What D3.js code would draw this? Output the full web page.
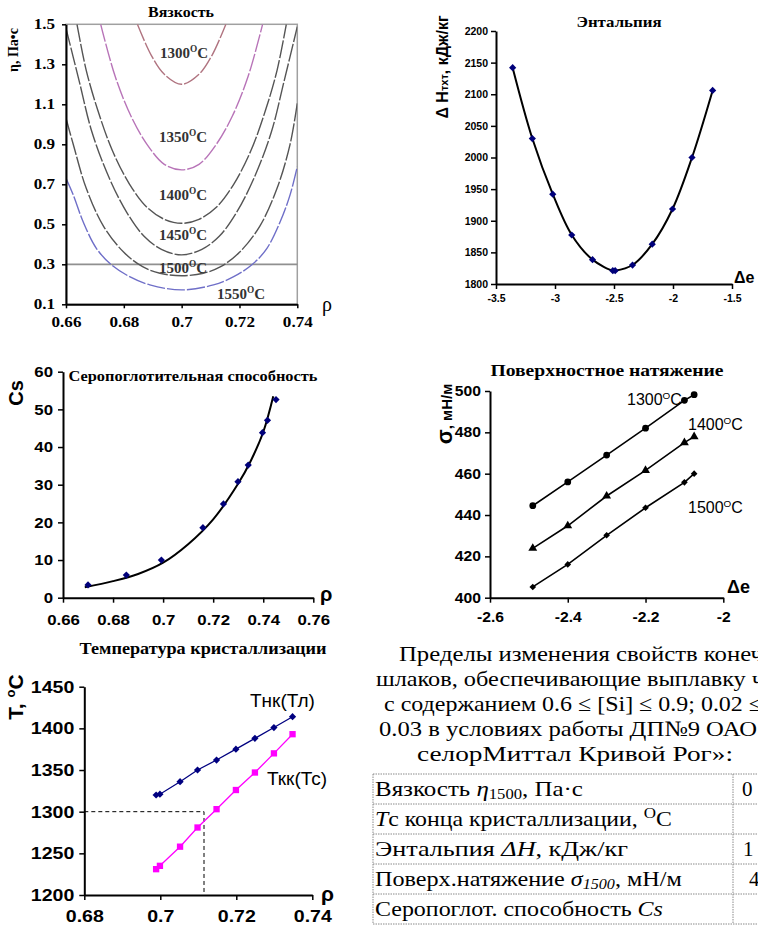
<!DOCTYPE html>
<html><head><meta charset="utf-8">
<script src="https://cdn.jsdelivr.net/npm/d3@7"></script>
<style>body{margin:0;background:#fff}svg{display:block}</style>
</head><body>
<svg id="c" width="758" height="933"></svg>
<script>
// ===== DATA =====
// Viscosity (η, Па·с vs ρ)
const viscXTicks = [0.66, 0.68, 0.70, 0.72, 0.74];
const viscXLabels = ["0.66", "0.68", "0.7", "0.72", "0.74"];
const viscYTicks = [0.1, 0.3, 0.5, 0.7, 0.9, 1.1, 1.3, 1.5];
const viscYLabels = ["0.1", "0.3", "0.5", "0.7", "0.9", "1.1", "1.3", "1.5"];
const viscTemps = ["1300", "1350", "1400", "1450", "1500", "1550"];
const visc1300 = [[0.6847,1.5],[0.6895,1.345],[0.694,1.25],[0.70,1.20],[0.706,1.25],[0.7105,1.345],[0.7153,1.5]];
const visc1350 = [[0.672,1.5],[0.677,1.24],[0.6825,1.04],[0.688,0.90],[0.694,0.80],[0.70,0.772],[0.706,0.80],[0.712,0.90],[0.7175,1.04],[0.723,1.24],[0.728,1.5]];
const visc1400 = [[0.6638,1.5],[0.667,1.27],[0.671,1.07],[0.676,0.87],[0.682,0.70],[0.688,0.585],[0.694,0.525],[0.70,0.505],[0.706,0.525],[0.712,0.585],[0.718,0.70],[0.724,0.87],[0.729,1.07],[0.733,1.27],[0.7362,1.5]];
const visc1450 = [[0.66,1.48],[0.6645,1.22],[0.669,0.96],[0.675,0.73],[0.681,0.56],[0.687,0.44],[0.693,0.375],[0.70,0.347],[0.707,0.375],[0.713,0.44],[0.719,0.56],[0.725,0.73],[0.731,0.96],[0.7355,1.22],[0.74,1.488]];
const visc1500 = [[0.66,1.03],[0.6625,0.90],[0.667,0.68],[0.673,0.49],[0.68,0.36],[0.6865,0.288],[0.6925,0.255],[0.70,0.243],[0.7075,0.255],[0.7135,0.288],[0.72,0.36],[0.727,0.49],[0.733,0.68],[0.7375,0.90],[0.74,1.105]];
const visc1550 = [[0.66,0.73],[0.6625,0.647],[0.666,0.51],[0.6705,0.38],[0.6755,0.30],[0.682,0.238],[0.689,0.197],[0.70,0.172],[0.711,0.197],[0.718,0.238],[0.7245,0.30],[0.7295,0.38],[0.734,0.51],[0.7375,0.647],[0.74,0.788]];
const viscLimit = 0.3;

// Enthalpy (ΔH vs Δe)
const enthTicksX = [-3.5, -3, -2.5, -2, -1.5];
const enthTicksY = [1800, 1850, 1900, 1950, 2000, 2050, 2100, 2150, 2200];
const enthDe = [-3.359, -3.192, -3.019, -2.858, -2.682, -2.510, -2.490, -2.343, -2.176, -2.004, -1.839, -1.664];
const enthH  = [2142, 2030, 1942, 1877.5, 1838.5, 1821, 1821, 1830, 1863, 1918.6, 2000, 2106];

// Sulphur capacity (Cs vs ρ)
const csTicksX = [0.66, 0.68, 0.70, 0.72, 0.74, 0.76];
const csLabelsX = ["0.66", "0.68", "0.7", "0.72", "0.74", "0.76"];
const csTicksY = [0, 10, 20, 30, 40, 50, 60];
const csRho = [0.670, 0.6853, 0.6993, 0.7159, 0.7241, 0.7299, 0.734, 0.7397, 0.7417, 0.7451];
const csVal = [3.4, 6.0, 10.0, 18.6, 24.9, 30.8, 35.2, 43.8, 47.1, 52.6];
const csFitRho = [0.6687, 0.68, 0.69, 0.70, 0.71, 0.72, 0.73, 0.735, 0.74, 0.744];
const csFitVal = [2.8, 4.4, 6.3, 9.3, 14.2, 20.8, 30.3, 36.3, 44.0, 53.5];

// Surface tension (σ vs Δe)
const sigTicksX = [-2.6, -2.4, -2.2, -2];
const sigTicksY = [400, 420, 440, 460, 480, 500];
const sigDe   = [-2.49, -2.40, -2.30, -2.20, -2.10, -2.075];
const sig1300 = [444.5, 456, 469, 482, 495.5, 498.2];
const sig1400 = [423.9, 434.8, 449.2, 461.6, 475, 477.9];
const sig1500 = [405.2, 416.1, 430.2, 443.5, 455.8, 460];

// Crystallisation temperature (T vs ρ)
const crTicksX = [0.68, 0.70, 0.72, 0.74];
const crLabelsX = ["0.68", "0.7", "0.72", "0.74"];
const crTicksY = [1200, 1250, 1300, 1350, 1400, 1450];
const crRho  = [0.6989, 0.6999, 0.7052, 0.7098, 0.7148, 0.7199, 0.7249, 0.7299, 0.7348];
const tLiq   = [1320, 1321, 1336, 1350, 1362, 1375, 1388, 1401, 1414];
const tSol   = [1231, 1235, 1258, 1281, 1303, 1326, 1347, 1370, 1393];
const crGuide = [0.7115, 1300];

// Text block
const paraLines = ["Пределы изменения свойств конеч", "шлаков, обеспечивающие выплавку ч", "с содержанием 0.6 ≤ [Si] ≤ 0.9; 0.02 ≤", "0.03  в условиях работы ДП№9 ОАО", "селорМиттал Кривой Рог»:"];
const tableVals = ["0", "", "1", "4", ""];

// ===== DRAWING =====
const svg = d3.select("#c");
const SERIF = "'Liberation Serif','Times New Roman',serif";
const SANS = "'Liberation Sans',Arial,sans-serif";

function stretch(sel, f) {
  sel.each(function () {
    const w = this.getComputedTextLength();
    d3.select(this).attr("textLength", w * f).attr("lengthAdjust", "spacingAndGlyphs");
  });
}
function fitWidth(t, w) { t.attr("textLength", w).attr("lengthAdjust", "spacingAndGlyphs"); return t; }

function axes(x, y, o) {
  const gx = svg.append("g").attr("transform", `translate(0,${y.range()[0]})`)
    .call(d3.axisBottom(x).tickValues(o.xt).tickFormat((d, i) => o.xl ? o.xl[i] : d)
      .tickSize(o.ts).tickSizeOuter(0).tickPadding(o.xp));
  const gy = svg.append("g").attr("transform", `translate(${x.range()[0]},0)`)
    .call(d3.axisLeft(y).tickValues(o.yt).tickFormat((d, i) => o.yl ? o.yl[i] : d)
      .tickSize(o.ts).tickSizeOuter(0).tickPadding(o.yp));
  [gx, gy].forEach(g => {
    g.select(".domain").attr("stroke", "#000").attr("stroke-width", 2);
    g.selectAll(".tick line").attr("stroke", "#000").attr("stroke-width", 1.5);
    g.selectAll("text").attr("font-family", o.font).attr("font-weight", "bold")
      .attr("font-size", o.fs).attr("fill", "#000");
    if (o.sx) stretch(g.selectAll("text"), o.sx);
  });
}
function txt(x, y, s, o) {
  const t = svg.append("text").attr("x", x).attr("y", y).text(s)
    .attr("font-family", o.font || SANS).attr("font-size", o.fs || 12)
    .attr("font-weight", o.fw || "normal").attr("text-anchor", o.anchor || "start")
    .attr("fill", o.fill || "#000");
  if (o.rot) t.attr("transform", `rotate(${o.rot},${x},${y})`);
  if (o.w) fitWidth(t, o.w);
  return t;
}
function degLabel(x, y, num, o) {
  const t = txt(x, y, num, o);
  t.append("tspan").attr("font-size", o.fs * 0.62).attr("dy", -o.fs * 0.38).text("O");
  t.append("tspan").attr("dy", o.fs * 0.38).text("C");
  return t;
}
const diamond = d3.symbol().type(d3.symbolSquare).size(26);

// ---- Panel 1: Viscosity ----
{
  const x = d3.scaleLinear().domain([0.66, 0.74]).range([66, 297.3]);
  const y = d3.scaleLinear().domain([0.1, 1.5]).range([304.3, 24.3]);
  svg.append("defs").append("clipPath").attr("id", "vclip")
    .append("rect").attr("x", 66).attr("y", 24.3).attr("width", 231.3).attr("height", 280);
  svg.append("rect").attr("x", 66).attr("y", 24.3).attr("width", 231.3).attr("height", 280)
    .attr("fill", "none").attr("stroke", "#a0a0a0").attr("stroke-width", 1.5);
  svg.append("line").attr("x1", x(0.66)).attr("x2", x(0.74)).attr("y1", y(viscLimit)).attr("y2", y(viscLimit))
    .attr("stroke", "#909090").attr("stroke-width", 1.8);
  const line = d3.line().x(d => x(d[0])).y(d => y(d[1])).curve(d3.curveCatmullRom);
  const curves = [[visc1300, "#b07480"], [visc1350, "#b874b8"], [visc1400, "#555"], [visc1450, "#555"], [visc1500, "#555"], [visc1550, "#6f6fc8"]];
  const cg = svg.append("g").attr("clip-path", "url(#vclip)");
  curves.forEach(([d, c]) => cg.append("path").attr("d", line(d)).attr("fill", "none")
    .attr("stroke", c).attr("stroke-width", 1.4).attr("stroke-dasharray", "18,2"));
  axes(x, y, { xt: viscXTicks, xl: viscXLabels, yt: viscYTicks, yl: viscYLabels, ts: 4, xp: 9, yp: 7, font: SERIF, fs: 14, sx: 1.22 });
  txt(181, 17, "Вязкость", { font: SERIF, fs: 14, fw: "bold", anchor: "middle", w: 66 });
  txt(18, 50, "η, Па•с", { font: SERIF, fs: 14, fw: "bold", anchor: "middle", rot: -90 });
  txt(322, 311, "ρ", { font: SERIF, fs: 20 });
  const lab = [[viscTemps[0], 184, 58], [viscTemps[1], 183, 142], [viscTemps[2], 183, 200], [viscTemps[3], 183, 240], [viscTemps[4], 183, 273], [viscTemps[5], 241, 299]];
  lab.forEach(([t, lx, ly]) => degLabel(lx, ly, t, { font: SERIF, fs: 15, fw: "bold", anchor: "middle", fill: "#333" }));
}

// ---- Panel 2: Enthalpy ----
{
  const x = d3.scaleLinear().domain([-3.5, -1.5]).range([496, 732]);
  const y = d3.scaleLinear().domain([1800, 2200]).range([284, 31]);
  axes(x, y, { xt: enthTicksX, yt: enthTicksY, ts: 5, xp: 6, yp: 3, font: SANS, fs: 10.5 });
  const pts = enthDe.map((d, i) => [d, enthH[i]]);
  svg.append("path").attr("d", d3.line().x(d => x(d[0])).y(d => y(d[1])).curve(d3.curveCatmullRom)(pts))
    .attr("fill", "none").attr("stroke", "#000").attr("stroke-width", 2);
  svg.append("g").selectAll("path").data(pts).join("path")
    .attr("d", diamond).attr("fill", "#00007a")
    .attr("transform", d => `translate(${x(d[0])},${y(d[1])}) rotate(45)`);
  txt(619, 27, "Энтальпия", { font: SERIF, fs: 15, fw: "bold", anchor: "middle", w: 85 });
  const yl = txt(448, 67, "", { font: SANS, fs: 16, fw: "bold", anchor: "middle", rot: -90 });
  yl.append("tspan").text("Δ H");
  yl.append("tspan").attr("font-size", 11).text("тхт");
  yl.append("tspan").text(", кДж/кг");
  txt(734, 283, "Δe", { font: SANS, fs: 16, fw: "bold" });
}

// ---- Panel 3: Cs ----
{
  const x = d3.scaleLinear().domain([0.66, 0.76]).range([63, 313.3]);
  const y = d3.scaleLinear().domain([0, 60]).range([597.7, 371.7]);
  axes(x, y, { xt: csTicksX, xl: csLabelsX, yt: csTicksY, ts: 5, xp: 12, yp: 5, font: SANS, fs: 15, sx: 1.12 });
  const fit = csFitRho.map((d, i) => [d, csFitVal[i]]);
  svg.append("path").attr("d", d3.line().x(d => x(d[0])).y(d => y(d[1])).curve(d3.curveCatmullRom)(fit))
    .attr("fill", "none").attr("stroke", "#000").attr("stroke-width", 2);
  svg.append("g").selectAll("path").data(csRho.map((d, i) => [d, csVal[i]])).join("path")
    .attr("d", diamond).attr("fill", "#00007a")
    .attr("transform", d => `translate(${x(d[0])},${y(d[1])}) rotate(45)`);
  txt(193, 381, "Серопоглотительная способность", { font: SERIF, fs: 15, fw: "bold", anchor: "middle", w: 249 });
  txt(23, 393, "Cs", { font: SANS, fs: 20, fw: "bold", anchor: "middle", rot: -90 });
  txt(320, 601, "ρ", { font: SANS, fs: 20, fw: "bold" });
}

// ---- Panel 4: Surface tension ----
{
  const x = d3.scaleLinear().domain([-2.6, -2]).range([490, 723.3]);
  const y = d3.scaleLinear().domain([400, 500]).range([597.7, 391]);
  axes(x, y, { xt: sigTicksX, yt: sigTicksY, ts: 5, xp: 9, yp: 4, font: SANS, fs: 14, sx: 1.12 });
  const line = d3.line().x(d => x(d[0])).y(d => y(d[1]));
  const series = [[sig1300, d3.symbolCircle, 36, 0], [sig1400, d3.symbolTriangle, 34, 0], [sig1500, d3.symbolSquare, 22, 45]];
  series.forEach(([vals, sym, sz, rot]) => {
    const pts = sigDe.map((d, i) => [d, vals[i]]);
    svg.append("path").attr("d", line(pts)).attr("fill", "none").attr("stroke", "#000").attr("stroke-width", 1.6);
    svg.append("g").selectAll("path").data(pts).join("path")
      .attr("d", d3.symbol().type(sym).size(sz)).attr("fill", "#000")
      .attr("transform", d => `translate(${x(d[0])},${y(d[1])}) rotate(${rot})`);
  });
  txt(607, 376, "Поверхностное натяжение", { font: SERIF, fs: 16, fw: "bold", anchor: "middle", w: 233 });
  const yl = txt(452, 414, "", { font: SANS, fs: 15, fw: "bold", anchor: "middle", rot: -90 });
  yl.append("tspan").attr("font-size", 22).text("σ");
  yl.append("tspan").text(", мН/м");
  degLabel(627, 405, "1300", { font: SANS, fs: 16 });
  degLabel(688, 430, "1400", { font: SANS, fs: 16 });
  degLabel(688, 513, "1500", { font: SANS, fs: 16 });
  txt(727, 593, "Δe", { font: SANS, fs: 18, fw: "bold" });
}

// ---- Panel 5: Crystallisation ----
{
  const x = d3.scaleLinear().domain([0.68, 0.74]).range([84.3, 312.3]);
  const y = d3.scaleLinear().domain([1200, 1450]).range([895, 686.7]);
  axes(x, y, { xt: crTicksX, xl: crLabelsX, yt: crTicksY, ts: 5, xp: 10, yp: 5, font: SANS, fs: 17, sx: 1.15 });
  svg.append("path").attr("d", d3.line()([[x(0.68), y(crGuide[1])], [x(crGuide[0]), y(crGuide[1])], [x(crGuide[0]), y(1200)]]))
    .attr("fill", "none").attr("stroke", "#000").attr("stroke-width", 1).attr("stroke-dasharray", "4,3");
  const line = d3.line().x(d => x(d[0])).y(d => y(d[1]));
  const liq = crRho.map((d, i) => [d, tLiq[i]]);
  const sol = crRho.map((d, i) => [d, tSol[i]]);
  svg.append("path").attr("d", line(liq)).attr("fill", "none").attr("stroke", "#000080").attr("stroke-width", 1.3);
  svg.append("path").attr("d", line(sol)).attr("fill", "none").attr("stroke", "#ff00ff").attr("stroke-width", 1.3);
  svg.append("g").selectAll("path").data(liq).join("path")
    .attr("d", diamond).attr("fill", "#000080")
    .attr("transform", d => `translate(${x(d[0])},${y(d[1])}) rotate(45)`);
  svg.append("g").selectAll("path").data(sol).join("path")
    .attr("d", d3.symbol().type(d3.symbolSquare).size(40)).attr("fill", "#ff00ff")
    .attr("transform", d => `translate(${x(d[0])},${y(d[1])})`);
  txt(203, 654, "Температура кристаллизации", { font: SERIF, fs: 17, fw: "bold", anchor: "middle", w: 247 });
  const yl = txt(23, 697, "T, ", { font: SANS, fs: 21, fw: "bold", anchor: "middle", rot: -90 });
  yl.append("tspan").attr("font-size", 13).attr("dy", -8).text("o");
  yl.append("tspan").attr("dy", 8).text("C");
  txt(250, 707, "Тнк(Тл)", { font: SANS, fs: 19 });
  txt(267, 785, "Ткк(Тс)", { font: SANS, fs: 19 });
  txt(321, 901, "ρ", { font: SANS, fs: 21, fw: "bold" });
}

// ---- Text block and table ----
{
  const xs = [399, 376, 384, 379, 417];
  const ws = [364, 388, 378, 378, 316];
  paraLines.forEach((s, i) => txt(xs[i], 661 + i * 25, s, { font: SERIF, fs: 22, w: ws[i] }));
  const top = 774, rh = 30, left = 373, div = 733;
  const tg = svg.append("g").attr("stroke", "#8a8a8a").attr("stroke-width", 1).attr("stroke-dasharray", "1.5,1");
  d3.range(6).forEach(i => tg.append("line").attr("x1", left).attr("x2", 758).attr("y1", top + i * rh).attr("y2", top + i * rh));
  [left, div].forEach(vx => tg.append("line").attr("x1", vx).attr("x2", vx).attr("y1", top).attr("y2", top + 5 * rh));
  const fs = 21, bx = 375;
  const b = i => top + i * rh + 22;
  const rowW = [208, 297, 253, 307, 288];
  function row(i, build) {
    const t = txt(0, 0, "", { font: SERIF, fs });
    build(t);
    const w = t.node().getComputedTextLength();
    t.attr("transform", `translate(${bx},${b(i)}) scale(${rowW[i] / w},1)`);
  }
  row(0, t => {
    t.append("tspan").text("Вязкость ");
    t.append("tspan").attr("font-style", "italic").text("η");
    t.append("tspan").attr("font-size", 14).attr("dy", 3).text("1500");
    t.append("tspan").attr("dy", -3).text(", Па·с");
  });
  row(1, t => {
    t.append("tspan").attr("font-style", "italic").text("T");
    t.append("tspan").text("с конца кристаллизации, ");
    t.append("tspan").attr("font-size", 15).attr("dy", -8).text("O");
    t.append("tspan").attr("dy", 8).text("C");
  });
  row(2, t => {
    t.append("tspan").text("Энтальпия ");
    t.append("tspan").attr("font-style", "italic").text("ΔH");
    t.append("tspan").text(", кДж/кг");
  });
  row(3, t => {
    t.append("tspan").text("Поверх.натяжение ");
    t.append("tspan").attr("font-style", "italic").text("σ");
    t.append("tspan").attr("font-style", "italic").attr("font-size", 14).attr("dy", 3).text("1500");
    t.append("tspan").attr("dy", -3).text(", мН/м");
  });
  row(4, t => {
    t.append("tspan").text("Серопоглот. способность ");
    t.append("tspan").attr("font-style", "italic").text("Cs");
  });
  const vx = [742, 742, 743, 749, 742];
  tableVals.forEach((v, i) => { if (v) txt(vx[i], b(i), v, { font: SERIF, fs }); });
}
</script>
</body></html>
